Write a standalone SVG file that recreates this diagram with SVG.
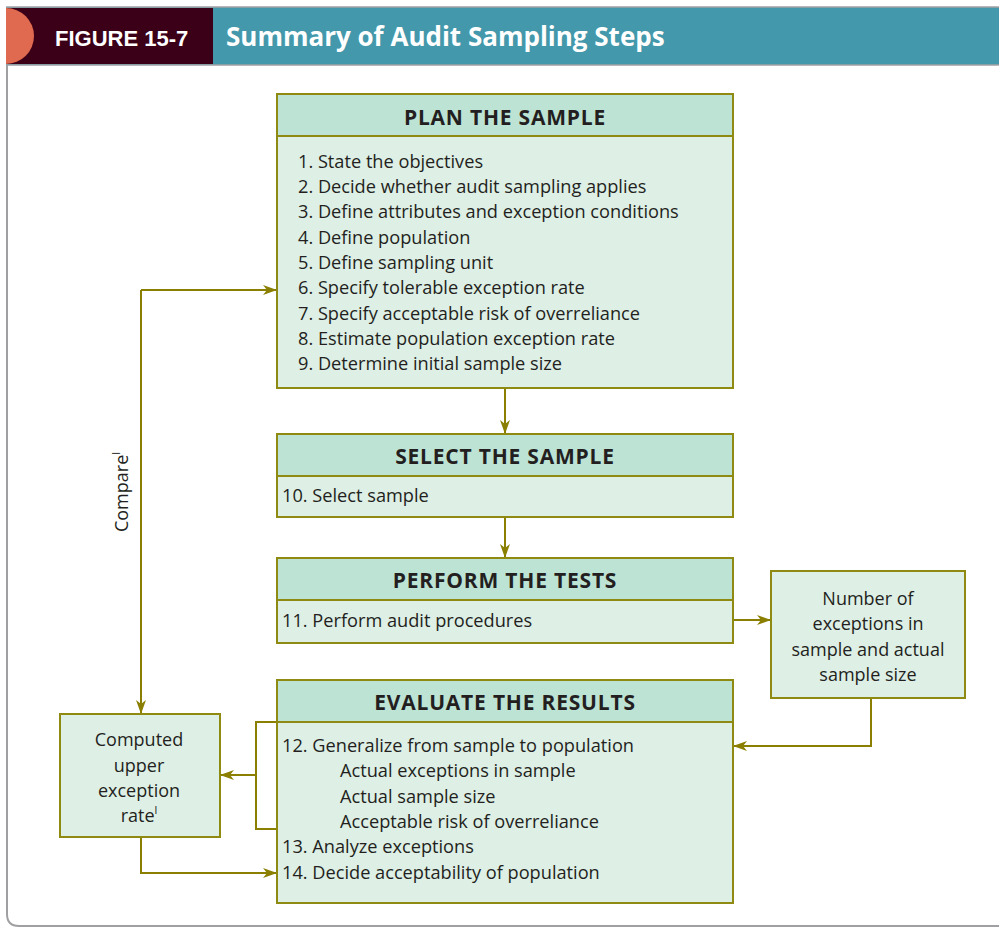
<svg xmlns="http://www.w3.org/2000/svg" width="999" height="928" viewBox="0 0 999 928">
<defs>
<marker id="ah" markerWidth="14" markerHeight="10" refX="13" refY="5" orient="auto" markerUnits="userSpaceOnUse">
<path d="M0,0 L14,5 L0,10 L4,5 Z" fill="#8a7f00"/>
</marker>
<style>
.hd{fill:#bde3d5;stroke:#8f8a12;stroke-width:2}
.bd{fill:#deefe6;stroke:#8f8a12;stroke-width:2}
.ttl{font-family:"Open Sans","Liberation Sans",Arial,sans-serif;font-weight:bold;font-size:21px;letter-spacing:0.8px;fill:#231f20;text-anchor:middle}
.tx{font-family:"Open Sans","Liberation Sans",Arial,sans-serif;font-size:18.2px;fill:#231f20}
.txc{font-family:"Open Sans","Liberation Sans",Arial,sans-serif;font-size:18px;fill:#231f20;text-anchor:middle}
.cn{fill:none;stroke:#8a7f00;stroke-width:2}
</style>
</defs>
<rect width="999" height="928" fill="#ffffff"/>
<path d="M7,65 L7,914 Q7,926 19,926 L999,926" fill="none" stroke="#a0a0a3" stroke-width="2"/>
<g id="header">
<rect x="6" y="7" width="993" height="58" fill="#4398ab"/>
<line x1="6" y1="7" x2="999" y2="7" stroke="#a0a0a3" stroke-width="1.5"/>
<line x1="6" y1="65" x2="999" y2="65" stroke="#a0a0a3" stroke-width="1.5"/>
<rect x="6" y="8" width="207" height="56" fill="#3b0018"/>
<ellipse cx="6" cy="36" rx="28" ry="28" fill="#e06a50"/>
<rect x="0" y="8" width="6" height="56" fill="#ffffff"/>
<text x="55" y="46" font-family="Liberation Sans,Arial,sans-serif" font-weight="bold" font-size="22" fill="#ffffff">FIGURE 15-7</text>
<text x="226" y="46" font-family="Open Sans,Liberation Sans,Arial,sans-serif" font-weight="bold" font-size="26" fill="#ffffff">Summary of Audit Sampling Steps</text>
</g>
<g id="connectors">
<line class="cn" x1="505" y1="388" x2="505" y2="433" marker-end="url(#ah)"/>
<line class="cn" x1="505" y1="517" x2="505" y2="557" marker-end="url(#ah)"/>
<line class="cn" x1="733" y1="620" x2="770" y2="620" marker-end="url(#ah)"/>
<polyline class="cn" points="871,698 871,746 734,746" marker-end="url(#ah)"/>
<polyline class="cn" points="141,290 276,290" marker-end="url(#ah)"/>
<polyline class="cn" points="141,290 141,713" marker-end="url(#ah)"/>
<polyline class="cn" points="277,722 256,722 256,829 277,829"/>
<line class="cn" x1="256" y1="775" x2="221" y2="775" marker-end="url(#ah)"/>
<polyline class="cn" points="141,837 141,873 276,873" marker-end="url(#ah)"/>
<text x="0" y="0" transform="translate(128,492) rotate(-90)" class="txc">Compare<tspan font-size="11" dy="-8">l</tspan></text>
</g>
<g id="plan">
<rect class="bd" x="277" y="94" width="456" height="294"/>
<rect class="hd" x="277" y="94" width="456" height="42"/>
<text class="ttl" x="505" y="125">PLAN THE SAMPLE</text>
<text class="tx" x="298" y="168">1. State the objectives</text>
<text class="tx" x="298" y="193">2. Decide whether audit sampling applies</text>
<text class="tx" x="298" y="218">3. Define attributes and exception conditions</text>
<text class="tx" x="298" y="244">4. Define population</text>
<text class="tx" x="298" y="269">5. Define sampling unit</text>
<text class="tx" x="298" y="294">6. Specify tolerable exception rate</text>
<text class="tx" x="298" y="320">7. Specify acceptable risk of overreliance</text>
<text class="tx" x="298" y="345">8. Estimate population exception rate</text>
<text class="tx" x="298" y="370">9. Determine initial sample size</text>
</g>
<g id="select">
<rect class="bd" x="277" y="434" width="456" height="83"/>
<rect class="hd" x="277" y="434" width="456" height="42"/>
<text class="ttl" x="505" y="464">SELECT THE SAMPLE</text>
<text class="tx" x="282" y="502">10. Select sample</text>
</g>
<g id="perform">
<rect class="bd" x="277" y="558" width="456" height="85"/>
<rect class="hd" x="277" y="558" width="456" height="42"/>
<text class="ttl" x="505" y="588">PERFORM THE TESTS</text>
<text class="tx" x="282" y="627">11. Perform audit procedures</text>
</g>
<g id="number">
<rect class="bd" x="771" y="571" width="194" height="127"/>
<text class="txc" x="868" y="605">Number of</text>
<text class="txc" x="868" y="630">exceptions in</text>
<text class="txc" x="868" y="656">sample and actual</text>
<text class="txc" x="868" y="681">sample size</text>
</g>
<g id="evaluate">
<rect class="bd" x="277" y="680" width="456" height="223"/>
<rect class="hd" x="277" y="680" width="456" height="42"/>
<text class="ttl" x="505" y="710">EVALUATE THE RESULTS</text>
<text class="tx" x="282" y="752">12. Generalize from sample to population</text>
<text class="tx" x="340" y="777">Actual exceptions in sample</text>
<text class="tx" x="340" y="803">Actual sample size</text>
<text class="tx" x="340" y="828">Acceptable risk of overreliance</text>
<text class="tx" x="282" y="853">13. Analyze exceptions</text>
<text class="tx" x="282" y="879">14. Decide acceptability of population</text>
</g>
<g id="computed">
<rect class="bd" x="60" y="714" width="160" height="123"/>
<text class="txc" x="139" y="746">Computed</text>
<text class="txc" x="139" y="772">upper</text>
<text class="txc" x="139" y="797">exception</text>
<text class="txc" x="139" y="822">rate<tspan font-size="11" dy="-8">l</tspan></text>
</g>
</svg>
